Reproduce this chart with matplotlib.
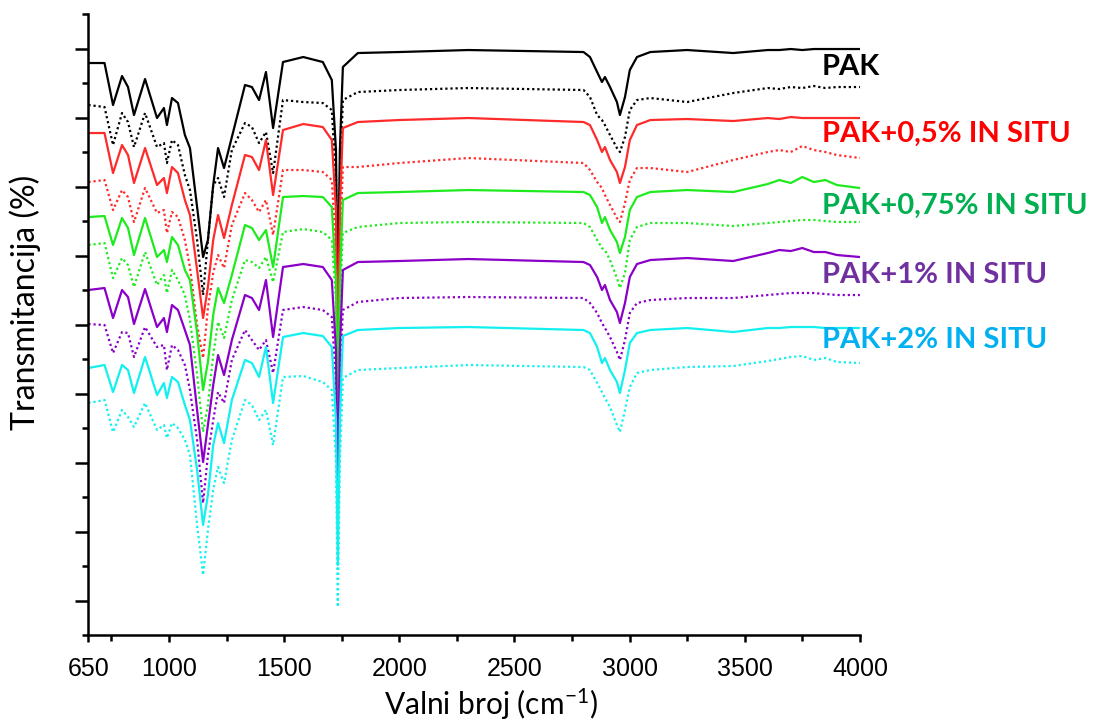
import numpy as np
import matplotlib
matplotlib.use("Agg")
import matplotlib.pyplot as plt
from matplotlib.ticker import FixedLocator

plt.rcParams['mathtext.fontset'] = 'custom'
plt.rcParams['mathtext.rm'] = 'Lato'
plt.rcParams['mathtext.default'] = 'regular'

# wavenumbers (cm-1) shared by all spectra
wn = [650, 720, 757, 796, 822, 848, 896, 948, 978, 991,
      1013, 1039, 1069, 1091, 1122, 1148, 1169, 1192, 1213, 1239,
      1273, 1330, 1360, 1391, 1421, 1452, 1495, 1583, 1668, 1707,
      1725, 1733, 1742, 1755, 1820, 2000, 2300, 2800, 2828, 2859,
      2880, 2893, 2915, 2945, 2958, 2980, 3001, 3032, 3090, 3250,
      3450, 3600, 3650, 3700, 3750, 3800, 3850, 3900, 4000]

# transmittance, stacked (arbitrary units)
pak = [572, 572, 530, 559, 548, 520, 556, 517, 527, 510,
       537, 532, 500, 487, 428, 378, 395, 450, 487, 467,
       498, 550, 548, 535, 563, 507, 573, 578, 573, 555,
       485, 335, 485, 568, 582, 583, 585, 583, 578, 563,
       553, 558, 548, 533, 520, 538, 565, 578, 583, 585,
       582, 585, 585, 586, 585, 586, 586, 586, 586]
pak_b = [530, 528, 490, 522, 513, 488, 522, 488, 492, 472,
         495, 490, 460, 445, 395, 340, 395, 450, 457, 438,
         485, 512, 508, 492, 503, 462, 535, 533, 532, 525,
         455, 305, 455, 535, 543, 545, 547, 545, 538, 520,
         515, 510, 500, 487, 483, 498, 525, 535, 537, 533,
         542, 547, 546, 548, 547, 549, 547, 548, 548]
p05 = [502, 502, 462, 490, 480, 452, 487, 450, 457, 442,
       468, 462, 435, 420, 365, 317, 348, 395, 420, 397,
       430, 480, 478, 465, 495, 440, 505, 511, 508, 495,
       425, 275, 425, 507, 513, 515, 517, 513, 510, 495,
       483, 488, 475, 463, 452, 468, 495, 510, 515, 516,
       514, 517, 516, 518, 517, 517, 517, 517, 517]
p05_b = [453, 455, 425, 445, 438, 413, 447, 422, 425, 402,
         423, 418, 395, 368, 310, 277, 327, 362, 380, 367,
         410, 442, 435, 423, 435, 400, 465, 465, 463, 455,
         385, 245, 385, 468, 468, 472, 477, 472, 465, 453,
         447, 440, 430, 417, 413, 432, 455, 467, 467, 463,
         475, 483, 485, 483, 489, 485, 483, 480, 477]
p075 = [418, 419, 390, 417, 407, 380, 417, 378, 385, 373,
        398, 390, 365, 355, 302, 245, 273, 320, 347, 332,
        360, 410, 407, 395, 405, 368, 438, 439, 438, 428,
        355, 205, 355, 435, 442, 443, 445, 443, 440, 428,
        412, 418, 405, 393, 382, 398, 425, 438, 443, 445,
        443, 451, 455, 452, 458, 453, 455, 450, 447]
p075_b = [390, 392, 357, 377, 370, 348, 383, 350, 360, 342,
          365, 355, 340, 315, 260, 203, 230, 280, 313, 297,
          335, 375, 373, 367, 378, 353, 403, 406, 403, 395,
          335, 185, 335, 402, 408, 412, 413, 412, 408, 395,
          387, 385, 375, 357, 347, 362, 395, 408, 412, 412,
          409, 412, 413, 414, 415, 415, 414, 413, 413]
p1 = [345, 347, 317, 345, 338, 311, 346, 308, 317, 303,
      330, 325, 305, 290, 225, 173, 210, 250, 280, 260,
      295, 340, 337, 325, 355, 298, 368, 371, 368, 355,
      285, 135, 285, 365, 373, 374, 376, 373, 370, 358,
      345, 350, 335, 323, 312, 332, 358, 371, 375, 377,
      374, 382, 385, 384, 387, 383, 383, 380, 378]
p1_b = [311, 310, 282, 303, 302, 278, 308, 288, 290, 265,
        290, 285, 270, 245, 195, 132, 180, 215, 243, 232,
        275, 305, 295, 285, 295, 262, 325, 328, 325, 318,
        255, 115, 255, 325, 333, 337, 338, 337, 332, 322,
        312, 307, 298, 283, 275, 295, 322, 332, 335, 337,
        337, 340, 341, 342, 342, 342, 341, 340, 340]
p2 = [267, 270, 243, 270, 265, 242, 278, 240, 252, 237,
      258, 253, 230, 215, 165, 110, 140, 190, 212, 192,
      235, 275, 272, 258, 288, 232, 298, 302, 299, 288,
      215, 70, 215, 299, 305, 307, 308, 305, 302, 288,
      272, 277, 265, 253, 242, 265, 292, 302, 305, 307,
      303, 307, 307, 308, 308, 308, 307, 307, 307]
p2_b = [232, 235, 203, 225, 218, 208, 232, 205, 210, 197,
        212, 207, 195, 180, 110, 60, 105, 145, 168, 152,
        195, 235, 230, 215, 225, 190, 258, 259, 253, 245,
        175, 28, 175, 257, 265, 267, 270, 268, 265, 252,
        243, 237, 228, 210, 203, 225, 248, 262, 265, 268,
        269, 274, 276, 278, 279, 275, 277, 273, 272]

names = ["PAK", "PAK+0,5% IN SITU", "PAK+0,75% IN SITU",
         "PAK+1% IN SITU", "PAK+2% IN SITU"]
solid = [pak, p05, p075, p1, p2]
dotted = [pak_b, p05_b, p075_b, p1_b, p2_b]
line_colors = ["#000000", "#FF2A2A", "#1EEB1E", "#8A00C8", "#12F0F0"]
text_colors = ["#000000", "#FF0000", "#00B050", "#7030A0", "#00B0F0"]
label_y = [568, 501, 429, 360, 295]

fig = plt.figure(figsize=(10.94, 7.23), dpi=100)
ax = fig.add_axes([0.0808, 0.1217, 0.7052, 0.8589])

for k in range(5):
    ax.plot(wn, solid[k], color=line_colors[k], lw=1.6,
            solid_joinstyle='round', solid_capstyle='round')
    ax.plot(wn, dotted[k], color=line_colors[k], lw=1.6, linestyle=(0, (1, 1.3)))
    ax.text(3835, label_y[k], names[k], color=text_colors[k], fontsize=21,
            fontweight='bold', family='Lato', va='center', ha='left', clip_on=False)

ax.set_xlim(650, 4000)
ax.set_ylim(0, 621)
ax.xaxis.set_major_locator(FixedLocator([650, 1000, 1500, 2000, 2500, 3000, 3500, 4000]))
ax.xaxis.set_minor_locator(FixedLocator([750, 1250, 1750, 2250, 2750, 3250, 3750]))
ax.yaxis.set_major_locator(FixedLocator(np.arange(34.5, 621, 69)))
ax.yaxis.set_minor_locator(FixedLocator(np.arange(0, 622, 69)))
ax.set_yticklabels([])

for s in ['top', 'right']:
    ax.spines[s].set_visible(False)
for s in ['left', 'bottom']:
    ax.spines[s].set_linewidth(1.8)

ax.tick_params(axis='y', which='major', length=9.5, width=1.8, direction='out')
ax.tick_params(axis='y', which='minor', length=4.5, width=1.8, direction='out')
ax.tick_params(axis='x', which='major', length=5, width=1.8, direction='out', pad=11)
ax.tick_params(axis='x', which='minor', length=4, width=1.8, direction='out')
for lab in ax.get_xticklabels():
    lab.set_fontfamily('Liberation Sans')
    lab.set_fontsize(18)

ax.set_xlabel("Valni broj (cm$^{-1}$)", fontsize=21.5, family='Lato')
ax.xaxis.set_label_coords(0.522, -0.083)
ax.set_ylabel("Transmitancija (%)", fontsize=23, family='Lato')
ax.yaxis.set_label_coords(-0.062, 0.536)

fig.savefig("out.png", dpi=100)
